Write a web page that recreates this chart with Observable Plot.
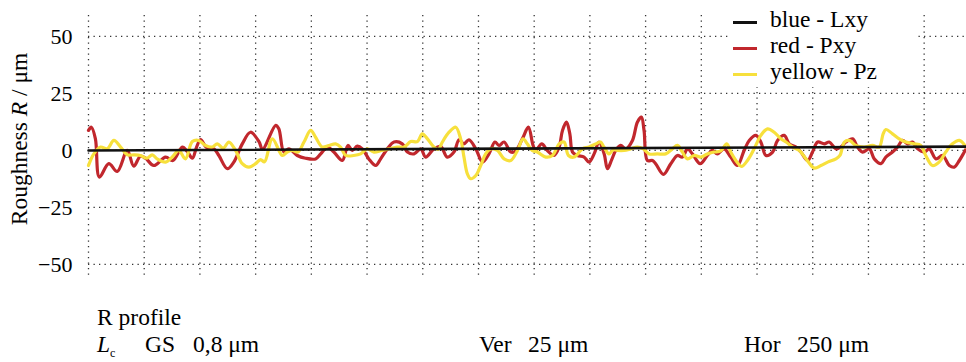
<!DOCTYPE html>
<html>
<head>
<meta charset="utf-8">
<script src="https://cdn.jsdelivr.net/npm/d3@7"></script>
<script src="https://cdn.jsdelivr.net/npm/@observablehq/plot@0.6"></script>
<style>
  html, body { margin: 0; padding: 0; background: #fff; }
  #wrap { position: relative; width: 966px; height: 362px; font-family: "Liberation Serif", "DejaVu Serif", "Noto Serif", "Times New Roman", Times, serif; color: #000; }
  .t { position: absolute; font-size: 23.5px; line-height: 23.5px; white-space: nowrap; }
  #legend { position: absolute; left: 728px; top: 3px; width: 190px; height: 84px; background: #fff; }
  .sw { position: absolute; width: 24px; height: 3px; }
  svg text { font-family: "Liberation Serif", "DejaVu Serif", "Noto Serif", "Times New Roman", Times, serif; }
</style>
</head>
<body>
<div id="wrap"></div>
<script>
// Profile positions (µm) and roughness values (µm)
const meanPos = [0, 3940];
const meanVal = [0, 1.7];

const redPos = [0,13,31,49,91,129,174,203,233,256,293,346,379,421,443,466,485,503,528,563,585,623,652,690,727,765,781,840,854,877,899,937,974,1019,1042,1072,1101,1139,1164,1184,1206,1229,1258,1289,1311,1341,1371,1408,1431,1461,1491,1513,1550,1580,1610,1640,1663,1685,1707,1738,1768,1797,1824,1842,1865,1895,1917,1947,1974,1995,2007,2034,2059,2089,2112,2127,2145,2160,2172,2194,2224,2246,2269,2291,2314,2329,2348,2366,2388,2411,2441,2463,2481,2493,2508,2531,2545,2580,2613,2643,2665,2688,2710,2745,2777,2800,2822,2852,2882,2912,2942,2965,2995,3017,3040,3070,3092,3122,3145,3175,3197,3227,3249,3272,3302,3324,3354,3376,3399,3429,3451,3474,3504,3526,3556,3578,3608,3631,3653,3676,3698,3721,3751,3773,3803,3833,3863,3885,3908,3930,3940];
const redVal = [8.8,10.2,5.1,-11.7,-5.8,-9.2,0,-6.9,-2.5,-3.4,-6.6,-2.9,-4.4,1.5,-0.4,-3.4,1.5,4.8,1.5,0.7,-2.2,-8,-5.1,2.9,8,3.9,0.5,11,9.5,-0.7,0.7,-2.2,-3.4,-3.7,-1.5,1.5,-0.7,-4.4,2.2,0,1.9,0.7,-3.7,-6.6,-3.7,0.7,3.7,2.9,-0.7,-1.5,0.7,-2.9,0.7,1.8,-2.9,-0.7,4.7,2.9,4.7,0.7,-5.1,-1.5,3.7,2.2,3.7,-0.7,-0.2,5.1,10.2,2.2,0,2.9,0,-2.2,1.5,8.8,12.4,7.3,-0.7,-2.2,-2.9,-5.1,-1.5,3.7,-1.5,-8,-4,0,2.2,0.7,4.4,12.4,14.6,8.8,-4.4,-4.4,-5.8,-10.5,-5.8,-2.2,-2.9,0.7,-1.5,-5.8,-2.2,0,-1.5,0.7,-2.9,-6.6,0,4.4,6.6,3.7,-2.2,-0.7,4.4,6.6,2.9,1.5,-0.7,-4.4,-0.7,3.7,2.9,3.7,0.7,1.5,3.7,5.1,1.5,-0.7,0.7,-3.7,-5.8,-2.9,-0.7,1.5,4.4,2.9,3.7,0.7,-0.7,0.7,-3.7,-2.2,-6.6,-7.3,-4.4,-0.7,1];

const yellowPos = [0,24,54,84,114,144,174,203,233,263,286,308,346,376,405,435,466,495,525,555,578,605,630,660,690,720,750,772,790,825,870,892,915,940,967,997,1019,1049,1079,1109,1131,1154,1190,1221,1251,1281,1315,1348,1385,1416,1446,1476,1498,1521,1550,1570,1588,1618,1648,1670,1685,1700,1715,1738,1760,1782,1805,1835,1865,1895,1925,1950,1969,1991,2014,2052,2082,2112,2134,2154,2179,2216,2246,2276,2298,2313,2336,2355,2374,2403,2433,2463,2490,2516,2553,2590,2620,2643,2665,2688,2718,2748,2777,2807,2837,2864,2882,2905,2930,2957,2987,3017,3047,3077,3107,3130,3160,3190,3220,3257,3287,3317,3354,3372,3392,3414,3443,3480,3518,3548,3566,3578,3608,3638,3668,3705,3735,3757,3787,3817,3847,3877,3908,3938];
const yellowVal = [-6.6,-1.5,1.5,0.7,4.4,1.5,-1.9,-1.9,-2.2,-3.4,-1.9,-3.7,-5.1,-2.9,0,-3.7,3.9,4.4,2.2,1.5,2.9,1,3.7,0,-5.8,-7.3,-5.8,-4,-5,5.1,-2.2,-0.7,0,-0.7,3.7,8.8,5.8,1.5,2.2,2.9,1.5,-2.2,-2.2,-1.5,0.7,-0.7,0,0.7,1.5,1.5,3.9,3.9,7.3,5.1,1.5,0.5,3.7,8,10.2,5.1,-2.9,-10.2,-12.4,-11,-6.6,-1.5,0.7,0,-3.7,-4.4,0,5.1,2.9,0,-0.7,-2.9,-2.2,2.9,3.7,-2.2,-2.9,0.7,1.5,2.9,3.7,1.5,-1.5,0.3,0,0,0.7,1.5,0.7,-1.5,-1.5,-1.5,0.7,2.2,-0.7,-3.7,-2.2,-2.9,-1.5,-0.7,-0.2,2.9,-0.7,-4.4,-7,-4.4,0.7,6.6,9.5,8,5.1,3.7,1.5,0,-3.7,-7.7,-6.6,-5.1,-3.7,-2.2,3.7,4.4,2.2,1.5,2.2,1.5,7.3,9.2,7.3,5.1,3.7,2.9,2.2,-2.2,-6.6,-5.1,-0.7,2.9,4.4,1.5];

const yTicks = [-50, -25, 0, 25, 50];
const gridStepUm = 250;
const seriesNames = ["blue - Lxy", "red - Pxy", "yellow - Pz"];
const seriesColors = ["#111111", "#c1272d", "#f7e03c"];

const toRows = (pos, val) => pos.map((x, i) => ({x, y: val[i]}));
const mean = toRows(meanPos, meanVal);
const red = toRows(redPos, redVal);
const yellow = toRows(yellowPos, yellowVal);

const serif = "'Liberation Serif', 'DejaVu Serif', 'Noto Serif', 'Times New Roman', Times, serif";

const plot = Plot.plot({
  width: 966,
  height: 290,
  marginLeft: 88,
  marginRight: 0,
  marginTop: 15,
  marginBottom: 11,
  style: {fontFamily: serif, fontSize: "22px", color: "#000", background: "#fff", overflow: "visible"},
  x: {domain: [0, 3940], axis: null},
  y: {domain: [-56.6, 59.2], ticks: yTicks, tickSize: 0, tickPadding: 16, label: null},
  marks: [
    Plot.gridX(d3.range(0, 3940, gridStepUm), {stroke: "#333", strokeOpacity: 1, strokeWidth: 1.3, strokeDasharray: "1.3,4.2"}),
    Plot.gridY(yTicks, {stroke: "#333", strokeOpacity: 1, strokeWidth: 1.3, strokeDasharray: "1.3,4.2"}),
    Plot.line(red, {x: "x", y: "y", stroke: seriesColors[1], strokeWidth: 3.2, curve: "catmull-rom"}),
    Plot.line(yellow, {x: "x", y: "y", stroke: seriesColors[2], strokeWidth: 3.2, curve: "catmull-rom"}),
    Plot.line(mean, {x: "x", y: "y", stroke: seriesColors[0], strokeWidth: 2.6})
  ]
});

const wrap = document.getElementById("wrap");
wrap.appendChild(plot);

// Rotated y-axis label with italic R
const svg = d3.select(plot);
const lab = svg.append("text")
  .attr("transform", "translate(27,139) rotate(-90)")
  .attr("text-anchor", "middle")
  .attr("font-size", "23.5px")
  .attr("fill", "#000");
lab.append("tspan").text("Roughness ");
lab.append("tspan").attr("font-style", "italic").text("R");
lab.append("tspan").text(" / μm");

// Legend
const legend = document.createElement("div");
legend.id = "legend";
seriesNames.forEach((name, i) => {
  const sw = document.createElement("div");
  sw.className = "sw";
  sw.style.left = "5px";
  sw.style.top = (19 + i * 26 - 1) + "px";
  sw.style.background = seriesColors[i];
  legend.appendChild(sw);
  const t = document.createElement("div");
  t.className = "t";
  t.style.left = "42px";
  t.style.top = (5 + i * 26) + "px";
  t.textContent = name;
  legend.appendChild(t);
});
wrap.appendChild(legend);

// Caption below the chart
const captions = [
  {html: "R profile", left: 97, top: 306},
  {html: "<i>L</i><span style=\"font-size:12px;position:relative;top:5px\">c</span>", left: 97, top: 333},
  {html: "GS", left: 145, top: 333},
  {html: "0,8 μm", left: 193, top: 333},
  {html: "Ver", left: 479, top: 333},
  {html: "25 μm", left: 528, top: 333},
  {html: "Hor", left: 744, top: 333},
  {html: "250 μm", left: 797, top: 333}
];
captions.forEach(c => {
  const d = document.createElement("div");
  d.className = "t";
  d.style.left = c.left + "px";
  d.style.top = c.top + "px";
  d.innerHTML = c.html;
  wrap.appendChild(d);
});
</script>
</body>
</html>
